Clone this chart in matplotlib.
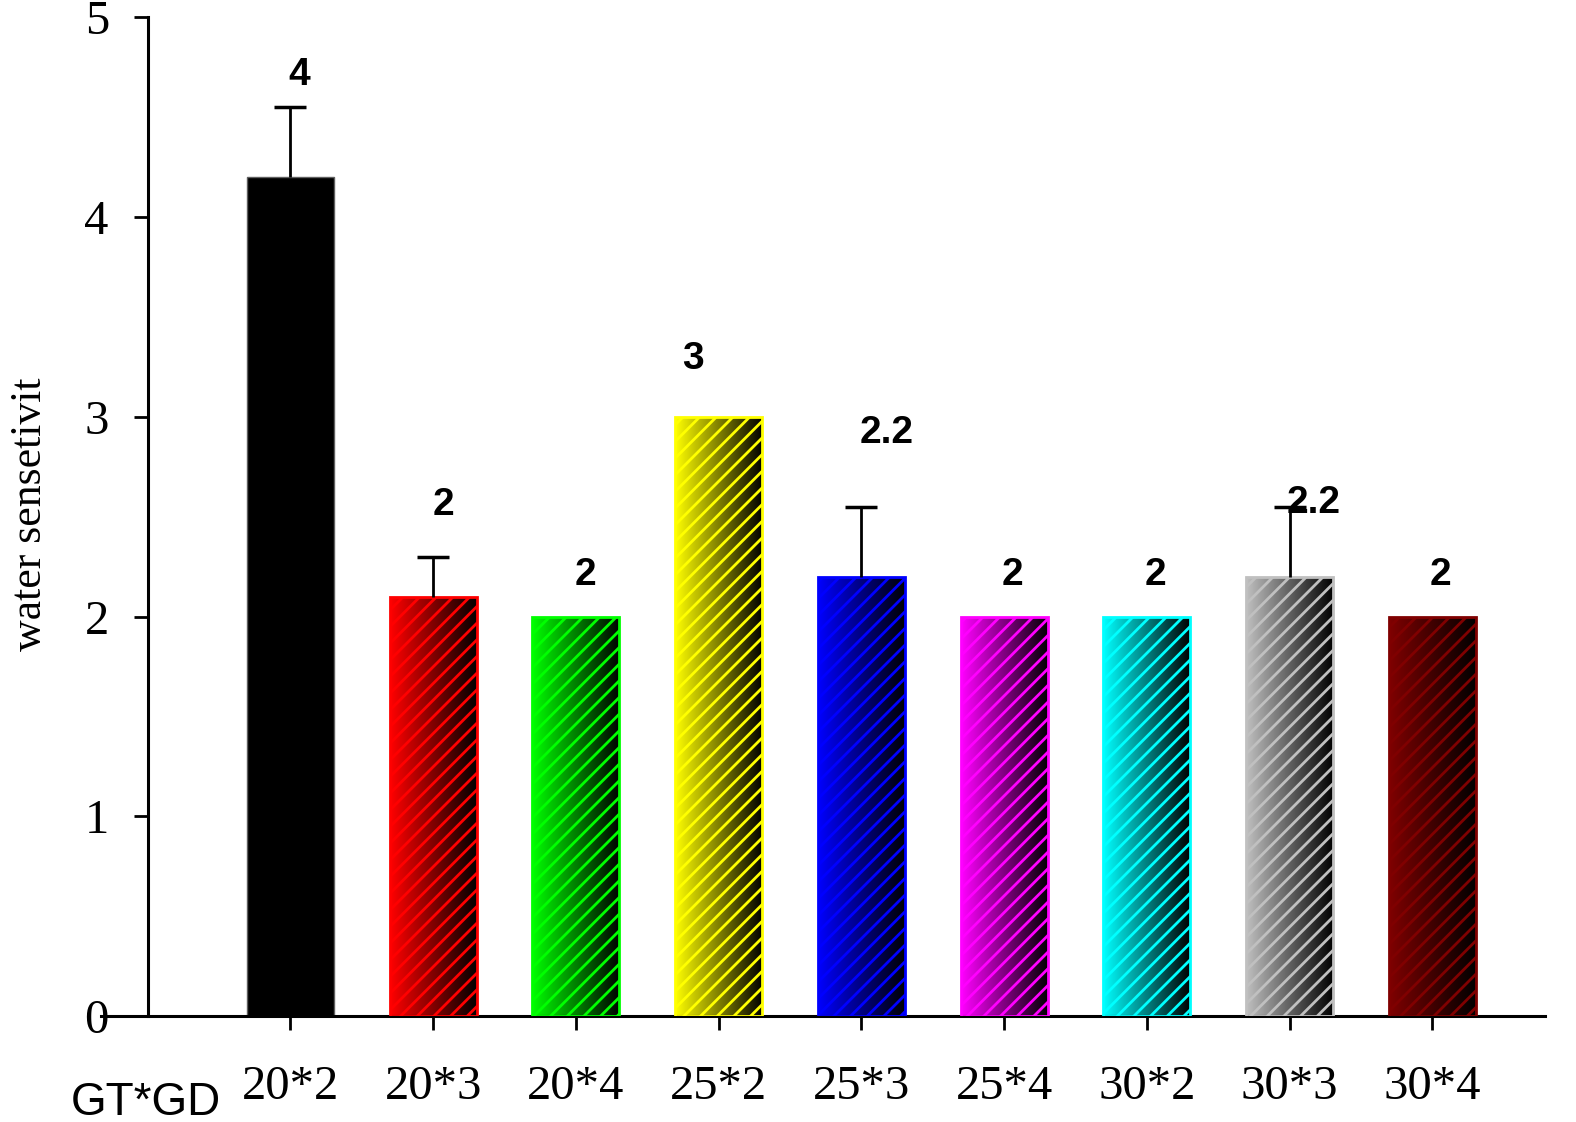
import numpy as np
import matplotlib
matplotlib.use("Agg")
import matplotlib.pyplot as plt
from matplotlib.colors import to_rgb

categories = ["20*2", "20*3", "20*4", "25*2", "25*3", "25*4", "30*2", "30*3", "30*4"]
values = [4.2, 2.1, 2.0, 3.0, 2.2, 2.0, 2.0, 2.2, 2.0]
errors = [0.35, 0.2, 0.0, 0.0, 0.35, 0.0, 0.0, 0.35, 0.0]
value_labels = ["4", "2", "2", "3", "2.2", "2", "2", "2.2", "2"]
yticks = [0, 1, 2, 3, 4, 5]

# styling / layout
colors = ["#000000", "#FF0000", "#00FF00", "#FFFF00", "#0000FF", "#FF00FF", "#00FFFF", "#C0C0C0", "#800000"]
label_dx = [0.06, 0.07, 0.07, -0.18, 0.18, 0.06, 0.06, 0.17, 0.06]
label_y = [4.71, 2.56, 2.21, 3.29, 2.92, 2.21, 2.21, 2.57, 2.21]

W, H = 1576, 1122
S = 1576 / 1568  # layout measured on the 1568-wide preview
fig = plt.figure(figsize=(W / 100, H / 100), dpi=100)
L, R, T, B = 100 * S, 1537 * S, 17 * S, 1011 * S
ax = fig.add_axes([L / W, 1 - B / H, (R - L) / W, (B - T) / H])

plt.rcParams['hatch.linewidth'] = 2.0
x = np.arange(len(categories))
bw = 0.61

for i, (v, c) in enumerate(zip(values, colors)):
    if i == 0:
        ax.bar(x[i], v, width=bw, color=c, edgecolor="#606060", linewidth=1, zorder=2)
        continue
    rgb = np.array(to_rgb(c))
    t = np.linspace(0, 1, 256)[None, :, None]
    grad = rgb[None, None, :] * (1 - t)
    bars = ax.bar(x[i], v, width=bw, facecolor="none", edgecolor=c, hatch="//",
                  linewidth=2, zorder=3)
    im = ax.imshow(grad, extent=[x[i] - bw / 2, x[i] + bw / 2, 0, v],
                   aspect="auto", zorder=2, interpolation="bilinear")
    im.set_clip_path(bars[0])

for i, (v, e) in enumerate(zip(values, errors)):
    if e > 0:
        ax.plot([x[i], x[i]], [v, v + e], color="black", lw=2, zorder=4,
                solid_capstyle="butt")
        ax.plot([x[i]], [v + e], marker="_", markersize=23, mew=2.5,
                color="black", zorder=4)

for i, s in enumerate(value_labels):
    ax.text(x[i] + label_dx[i], label_y[i], s, ha="center", va="center",
            fontsize=28, fontweight="bold", family="Liberation Sans", zorder=5)

ax.set_xlim(-1.331, 8.789)
ax.set_ylim(0, 5)
ax.spines["top"].set_visible(False)
ax.spines["right"].set_visible(False)
ax.spines["left"].set_position(("data", -1.0))
for sp in ("left", "bottom"):
    ax.spines[sp].set_linewidth(2.2)

ax.set_yticks(yticks)
ax.set_yticklabels([str(t) for t in yticks], family="Liberation Serif", fontsize=35)
ax.set_xticks(x)
ax.set_xticklabels(categories, family="Liberation Serif", fontsize=35)
ax.tick_params(axis="y", direction="out", length=10, width=2, pad=18)
ax.tick_params(axis="x", direction="out", length=10, width=2, pad=25)

fig.text(30 * S / W, 1 - 512 * S / H, "water sensetivit", rotation=90, ha="center", va="center",
         family="Liberation Serif", fontsize=31.5)
fig.text(145 * S / W, 1 - 1097 * S / H, "GT*GD", ha="center", va="center",
         family="Liberation Sans", fontsize=33)

fig.savefig("out.png", dpi=100)
